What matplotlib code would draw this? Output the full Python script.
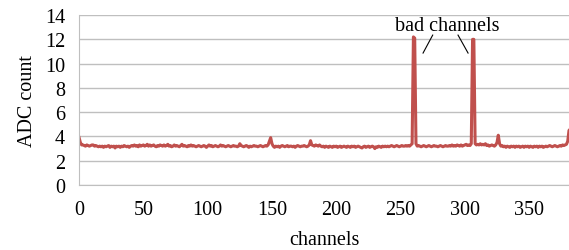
import numpy as np
import matplotlib.pyplot as plt

plt.rcParams['font.family'] = ['Liberation Serif', 'DejaVu Serif']

# ADC count per channel
adc = [
    3.9, 3.5, 3.3, 3.3, 3.25, 3.2, 3.3, 3.25, 3.2, 3.25, 3.3, 3.3, 3.2, 3.25, 3.2, 3.15,
    3.2, 3.15, 3.2, 3.1, 3.2, 3.15, 3.2, 3.25, 3.1, 3.2, 3.15, 3.2, 3.05, 3.2, 3.15, 3.2,
    3.1, 3.2, 3.15, 3.25, 3.2, 3.15, 3.2, 3.1, 3.2, 3.25, 3.2, 3.3, 3.2, 3.25, 3.15, 3.3,
    3.2, 3.25, 3.3, 3.2, 3.25, 3.35, 3.2, 3.3, 3.2, 3.25, 3.3, 3.2, 3.15, 3.25, 3.2, 3.3,
    3.25, 3.2, 3.3, 3.2, 3.25, 3.35, 3.2, 3.25, 3.15, 3.2, 3.3, 3.2, 3.25, 3.2, 3.15, 3.25,
    3.35, 3.2, 3.25, 3.2, 3.15, 3.25, 3.2, 3.3, 3.2, 3.25, 3.2, 3.15, 3.2, 3.25, 3.2, 3.15,
    3.2, 3.25, 3.2, 3.1, 3.2, 3.3, 3.2, 3.25, 3.15, 3.2, 3.25, 3.2, 3.15, 3.2, 3.3, 3.2,
    3.25, 3.2, 3.15, 3.2, 3.25, 3.2, 3.15, 3.2, 3.25, 3.2, 3.2, 3.15, 3.2, 3.4, 3.25, 3.2,
    3.15, 3.2, 3.25, 3.2, 3.1, 3.2, 3.15, 3.2, 3.25, 3.2, 3.2, 3.15, 3.2, 3.25, 3.2, 3.15,
    3.2, 3.25, 3.2, 3.3, 3.6, 3.9, 3.4, 3.2, 3.1, 3.2, 3.15, 3.2, 3.1, 3.2, 3.25, 3.2,
    3.15, 3.2, 3.25, 3.15, 3.2, 3.2, 3.15, 3.2, 3.1, 3.2, 3.25, 3.2, 3.15, 3.2, 3.2, 3.25,
    3.2, 3.15, 3.2, 3.3, 3.65, 3.3, 3.25, 3.2, 3.3, 3.25, 3.2, 3.3, 3.2, 3.15, 3.2, 3.1,
    3.2, 3.15, 3.1, 3.2, 3.15, 3.1, 3.2, 3.15, 3.2, 3.1, 3.15, 3.2, 3.1, 3.15, 3.2, 3.15,
    3.1, 3.2, 3.15, 3.1, 3.2, 3.15, 3.2, 3.1, 3.15, 3.2, 3.15, 3.1, 3.05, 3.15, 3.2, 3.1,
    3.15, 3.2, 3.1, 3.15, 3.2, 3.15, 3.0, 3.15, 3.1, 3.2, 3.15, 3.1, 3.2, 3.15, 3.2, 3.15,
    3.2, 3.15, 3.2, 3.25, 3.2, 3.15, 3.2, 3.25, 3.2, 3.15, 3.2, 3.25, 3.2, 3.2, 3.25, 3.2,
    3.25, 3.2, 3.3, 3.4, 12.2, 12.1, 3.4, 3.2, 3.25, 3.2, 3.15, 3.2, 3.25, 3.2, 3.15, 3.2,
    3.25, 3.2, 3.15, 3.2, 3.25, 3.2, 3.2, 3.15, 3.2, 3.25, 3.2, 3.15, 3.2, 3.25, 3.2, 3.2,
    3.25, 3.2, 3.3, 3.2, 3.25, 3.2, 3.3, 3.25, 3.2, 3.3, 3.2, 3.25, 3.3, 3.35, 3.25, 3.3,
    3.25, 3.4, 12.0, 12.0, 3.4, 3.3, 3.35, 3.3, 3.4, 3.3, 3.35, 3.3, 3.4, 3.25, 3.3, 3.2,
    3.25, 3.3, 3.25, 3.2, 3.3, 3.5, 4.1, 3.4, 3.2, 3.25, 3.15, 3.2, 3.1, 3.2, 3.15, 3.1,
    3.2, 3.15, 3.2, 3.1, 3.2, 3.15, 3.2, 3.1, 3.15, 3.2, 3.1, 3.2, 3.15, 3.2, 3.1, 3.2,
    3.15, 3.1, 3.2, 3.15, 3.2, 3.1, 3.2, 3.15, 3.2, 3.1, 3.15, 3.2, 3.15, 3.2, 3.25, 3.2,
    3.15, 3.2, 3.25, 3.2, 3.15, 3.2, 3.25, 3.2, 3.3, 3.25, 3.3, 3.35, 3.6, 4.5, 4.6, 4.6,
]
channels = np.arange(len(adc))

fig = plt.figure(figsize=(5.69, 2.51), dpi=100)
ax = fig.add_axes([0.139, 0.259, 0.861, 0.677])

ax.plot(channels, adc, color='#C0504D', lw=2.2)

ax.set_xlim(0, 381)
ax.set_ylim(0, 14)
ax.set_xticks(range(0, 351, 50))
ax.set_yticks(range(0, 15, 2))
ax.grid(axis='y', color='#BFBFBF', lw=1)
ax.set_axisbelow(True)
for s in ['top', 'right']:
    ax.spines[s].set_visible(False)
for s in ['left', 'bottom']:
    ax.spines[s].set_color('#BFBFBF')
ax.tick_params(length=0, labelsize=14.5)
ax.tick_params(axis='x', pad=11)
ax.tick_params(axis='y', pad=10)
ax.set_xlabel('channels', fontsize=14.5, labelpad=8)
ax.set_ylabel('ADC count', fontsize=14.5, labelpad=6)

ax.text(286, 13.1, 'bad channels', ha='center', va='center', fontsize=14.5)
ax.plot([275, 267.5], [12.35, 10.87], color='black', lw=0.8)
ax.plot([294.7, 302.5], [12.35, 10.87], color='black', lw=0.8)

fig.savefig('out.png', dpi=100)
